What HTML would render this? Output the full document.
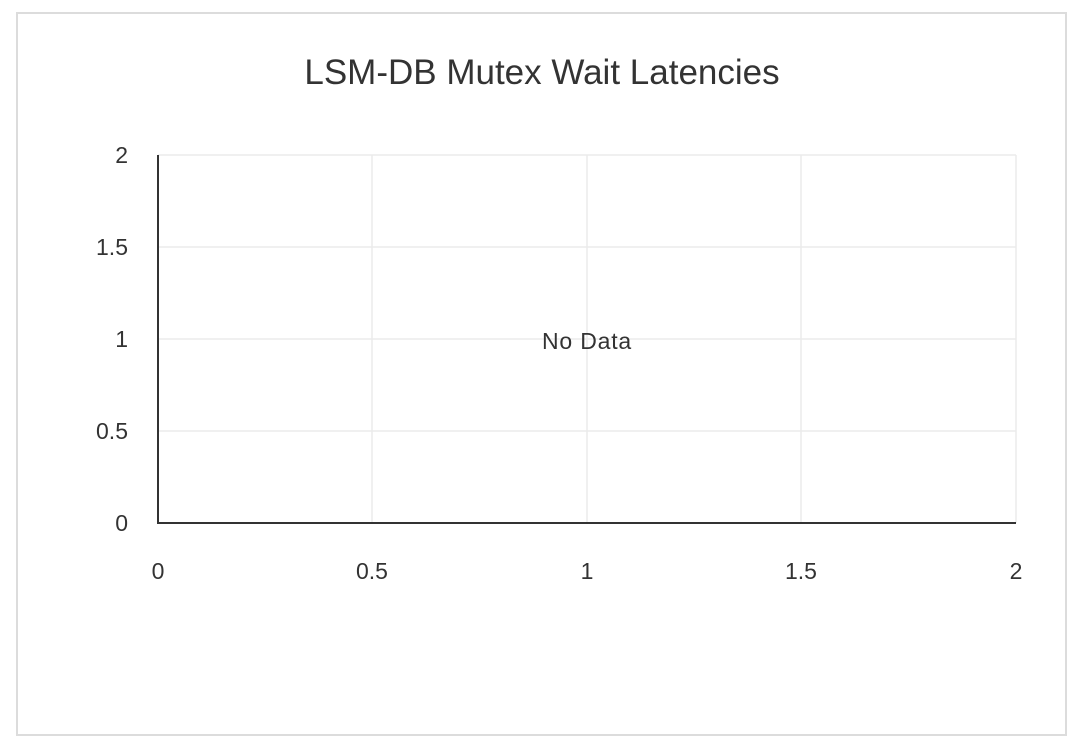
<!DOCTYPE html>
<html><head><meta charset="utf-8"><style>
html,body{margin:0;padding:0;background:#fff;}
svg{display:block;font-family:"Liberation Sans",sans-serif;}
</style></head><body>
<svg width="1072" height="746" viewBox="0 0 1072 746">
<rect x="17" y="13" width="1049" height="722" fill="#fff" stroke="#dcdcdc" stroke-width="2"/>
<text x="542" y="84" text-anchor="middle" font-size="35" fill="#333">LSM-DB Mutex Wait Latencies</text>
<g stroke="#ebebeb" stroke-width="1.5">
<line x1="372" y1="155" x2="372" y2="523"/>
<line x1="587" y1="155" x2="587" y2="523"/>
<line x1="801" y1="155" x2="801" y2="523"/>
<line x1="1016" y1="155" x2="1016" y2="523"/>
<line x1="158" y1="155" x2="1016" y2="155"/>
<line x1="158" y1="247" x2="1016" y2="247"/>
<line x1="158" y1="339" x2="1016" y2="339"/>
<line x1="158" y1="431" x2="1016" y2="431"/>
</g>
<line x1="158" y1="155" x2="158" y2="524" stroke="#333" stroke-width="2"/>
<line x1="157" y1="523" x2="1016" y2="523" stroke="#333" stroke-width="2"/>
<g font-size="23" fill="#333" text-anchor="end">
<text x="128" y="163">2</text>
<text x="128" y="255">1.5</text>
<text x="128" y="347">1</text>
<text x="128" y="439">0.5</text>
<text x="128" y="531">0</text>
</g>
<g font-size="23" fill="#333" text-anchor="middle">
<text x="158" y="579">0</text>
<text x="372" y="579">0.5</text>
<text x="587" y="579">1</text>
<text x="801" y="579">1.5</text>
<text x="1016" y="579">2</text>
</g>
<text x="587" y="349" text-anchor="middle" font-size="23" letter-spacing="0.8" fill="#333">No Data</text>
</svg>
</body></html>
